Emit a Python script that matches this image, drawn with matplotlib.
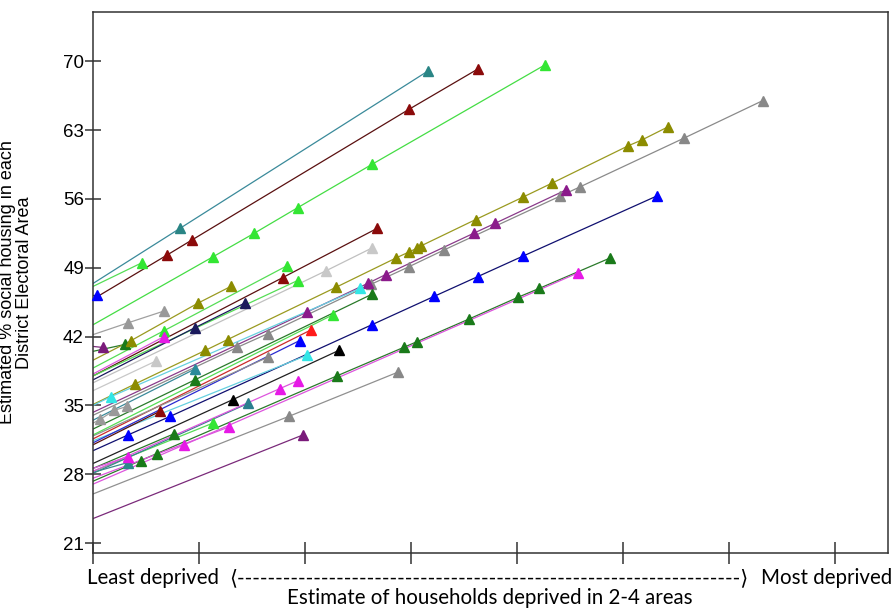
import matplotlib.pyplot as plt

plt.rcParams['font.family'] = ['Liberation Sans', 'DejaVu Sans']

# one entry per district: value at the least deprived end, then the estimated points
intercepts = [47.4, 45.8, 47.1, 46.2, 43.2, 35.1, 34.0, 34.3, 30.4, 27.3,
              27.0, 32.6, 28.3, 37.3, 38.0, 38.8, 38.0, 38.2, 42.2, 41.0,
              40.5, 39.6, 37.6, 35.0, 31.4, 33.5, 31.6, 31.2, 29.1, 28.1,
              26.0, 23.5, 31.0, 33.2, 28.6, 28.2, 28.6, 27.6, 28.3, 36.5,
              31.9, 32.0]

point_x = [
    [0.82, 3.16],
    [0.70, 0.93, 2.98, 3.63],
    [0.46],
    [0.04],
    [1.13, 1.52, 1.93, 2.63, 4.26],
    [0.40, 1.06, 1.27, 2.29, 2.86, 2.98, 3.06, 3.09, 3.61, 4.06, 4.33, 5.05, 5.18, 5.42],
    [1.36, 1.65, 2.62, 2.98, 3.31, 4.41, 4.59, 5.58, 6.32],
    [2.02, 2.59, 2.76, 3.59, 3.79, 4.46],
    [0.33, 0.73, 2.63, 3.22, 3.63, 4.06, 5.32],
    [0.45, 0.60, 2.30, 2.93, 3.06, 3.55, 4.01, 4.21, 4.88],
    [0.86, 4.58],
    [0.96, 2.63],
    [1.13],
    [2.20, 2.63],
    [1.79, 2.68],
    [0.67, 1.83],
    [1.93],
    [0.67],
    [0.33, 0.67],
    [0.09],
    [0.30],
    [0.36, 0.99, 1.30],
    [0.96, 1.43],
    [0.17, 2.52],
    [2.02],
    [0.96],
    [2.06],
    [1.95],
    [1.32, 2.32],
    [1.46],
    [1.85, 2.88],
    [1.98],
    [0.63],
    [0.07, 0.20, 0.32],
    [0.76],
    [0.33],
    [0.33],
    [1.28],
    [1.76, 1.93],
    [0.59],
    [1.65],
    [2.26],
]

point_y = [
    [53.0, 69.0],
    [50.3, 51.8, 65.1, 69.2],
    [49.5],
    [46.2],
    [50.1, 52.5, 55.1, 59.5, 69.6],
    [37.2, 40.6, 41.7, 47.0, 50.0, 50.6, 51.0, 51.2, 53.9, 56.2, 57.6, 61.4, 62.0, 63.3],
    [40.9, 42.3, 47.3, 49.1, 50.8, 56.3, 57.2, 62.2, 66.0],
    [44.5, 47.4, 48.3, 52.5, 53.5, 56.9],
    [32.0, 33.9, 43.2, 46.1, 48.1, 50.2, 56.3],
    [29.4, 30.1, 38.0, 40.9, 41.5, 43.8, 46.0, 46.9, 50.0],
    [31.0, 48.5],
    [37.6, 46.3],
    [33.2],
    [48.7, 51.0],
    [48.0, 53.0],
    [42.6, 49.2],
    [47.7],
    [42.0],
    [43.4, 44.6],
    [40.9],
    [41.2],
    [41.6, 45.4, 47.1],
    [42.9, 45.4],
    [35.9, 46.9],
    [40.1],
    [38.7],
    [42.7],
    [41.6],
    [35.6, 40.6],
    [35.2],
    [33.9, 38.4],
    [32.0],
    [34.4],
    [33.6, 34.5, 34.9],
    [32.1],
    [29.2],
    [29.8],
    [32.8],
    [36.7, 37.5],
    [39.5],
    [39.9],
    [44.2],
]

marker_colors = ['#2a8585', '#8b0a0a', '#33e633', '#0000ff', '#33e633', '#8c8c00',
                 '#888888', '#8b1a8b', '#0000ff', '#1a7a1a', '#e619e6', '#1a7a1a',
                 '#33e633', '#c8c8c8', '#8b0a0a', '#33e633', '#33e633', '#e619e6',
                 '#999999', '#7a1a7a', '#1a7a1a', '#8c8c00', '#1a1a5c', '#33e6e6',
                 '#33e6e6', '#2a8a9a', '#ff1a1a', '#0000ff', '#000000', '#2a7f8f',
                 '#888888', '#7a1a7a', '#8b0a0a', '#999999', '#1a7a1a', '#2a8a8a',
                 '#e619e6', '#e619e6', '#e619e6', '#c8c8c8', '#888888', '#33e633']

line_colors = ['#3a8a9a', '#5a1010', '#55dd55', '#101080', '#44dd44', '#9a9a20',
               '#8a8a8a', '#8a3a8a', '#101070', '#2a7a2a', '#dd55dd', '#2a7a2a',
               '#55dd55', '#c0c0c0', '#5a1010', '#55dd55', '#55dd55', '#dd55dd',
               '#a0a0a0', '#7a2a7a', '#2a7a2a', '#9a9a20', '#1a1a5c', '#66d0e0',
               '#66d0e0', '#3a8a9a', '#cc2a2a', '#2a2ad0', '#202020', '#3a7f8f',
               '#909090', '#7a2a7a', '#5a1010', '#a0a0a0', '#2a7a2a', '#3a8a8a',
               '#dd55dd', '#dd55dd', '#dd55dd', '#c8c8c8', '#909090', '#55dd55']

y_ticks = [21, 28, 35, 42, 49, 56, 63, 70]
x_ticks = [0, 1, 2, 3, 4, 5, 6, 7]

fig = plt.figure(figsize=(8.94, 6.09), dpi=100)
ax = fig.add_axes([93 / 894, 56 / 609, 795 / 894, 541 / 609])

for b, xs, ys, mc, lc in zip(intercepts, point_x, point_y, marker_colors, line_colors):
    ax.plot([0] + xs, [b] + ys, color=lc, lw=0.9, zorder=2)
    ax.plot(xs, ys, '^', color=mc, mec=mc, ms=6.5, zorder=3, clip_on=False)

ax.set_xlim(0, 7.5)
ax.set_ylim(20, 75)
ax.set_yticks(y_ticks)
ax.set_xticks(x_ticks)
ax.tick_params(axis='y', direction='inout', length=11, width=1.1, labelsize=13.5,
               pad=1, color='#333333')
ax.tick_params(axis='x', direction='inout', length=16, width=1.1, labelbottom=False,
               color='#333333')
for s in ax.spines.values():
    s.set_linewidth(1.1)
    s.set_color('#333333')

ax.set_ylabel('Estimated % social housing in each\nDistrict Electoral Area', fontsize=13,
              linespacing=1.0)
ax.yaxis.set_label_coords(-0.076, 0.5)

fam = ['Lato', 'DejaVu Sans', 'Noto Sans CJK SC']
y1 = 1 - 578 / 609
fig.text(87 / 894, y1, 'Least deprived', ha='left', va='center', fontsize=14.8, family=fam)
fig.text(892 / 894, y1, 'Most deprived', ha='right', va='center', fontsize=14.8, family=fam)
fig.text(489 / 894, y1, '\u27e8' + '-' * 66 + '\u27e9', ha='center', va='center',
         fontsize=14.8, family=fam)
fig.text(490 / 894, 1 - 598 / 609, 'Estimate of households deprived in 2-4 areas',
         ha='center', va='center', fontsize=14.8, family=fam)

fig.savefig('out.png', dpi=100)
